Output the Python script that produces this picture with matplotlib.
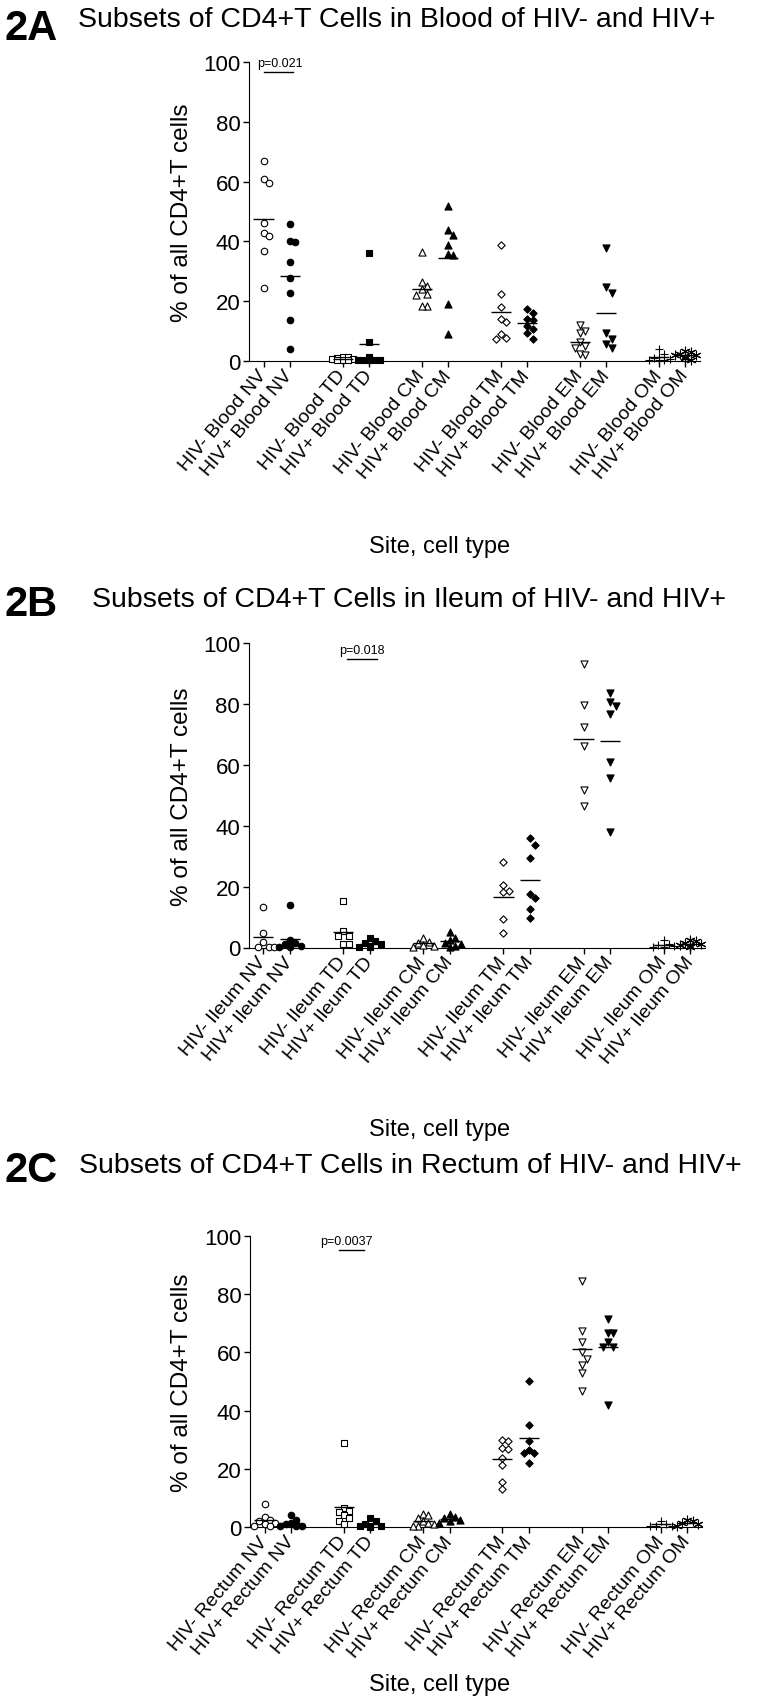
import numpy as np
import matplotlib.pyplot as plt

plt.rcParams['font.family'] = ['Liberation Sans', 'DejaVu Sans']

cell_types = ['NV', 'TD', 'CM', 'TM', 'EM', 'OM']
status = ['HIV-', 'HIV+']
sites = ['Blood', 'Ileum', 'Rectum']
panel_tags = ['2A', '2B', '2C']

# order of the 12 groups: HIV- NV, HIV+ NV, HIV- TD, HIV+ TD, ... HIV- OM, HIV+ OM
blood = [
    [66.8, 61.0, 59.5, 46.3, 42.9, 41.7, 36.8, 24.5],
    [45.9, 40.0, 39.8, 33.1, 27.6, 22.7, 13.7, 3.9],
    [1.5, 1.2, 1.0, 0.8, 0.6, 0.5, 0.3, 0.2],
    [36.2, 6.4, 1.5, 0.5, 0.3, 0.3, 0.2, 0.2],
    [36.5, 26.5, 25.0, 24.0, 22.5, 22.0, 18.5, 18.5],
    [51.7, 43.7, 42.0, 38.7, 35.9, 35.3, 19.2, 9.1],
    [38.9, 22.5, 18.1, 13.9, 13.0, 9.1, 7.7, 7.5],
    [17.3, 16.2, 14.2, 13.6, 11.7, 10.6, 9.4, 7.5],
    [12.0, 10.0, 9.5, 6.5, 5.0, 4.5, 2.5, 2.0],
    [37.9, 24.6, 22.7, 9.5, 7.5, 5.6, 4.3],
    [4.0, 2.5, 1.5, 1.0, 0.8, 0.5, 0.5, 0.3],
    [3.5, 3.0, 2.5, 2.0, 2.0, 1.5, 1.0, 0.5],
]
ileum = [
    [13.4, 4.7, 1.9, 0.3, 0.2, 0.1],
    [14.1, 2.5, 1.5, 1.0, 0.5, 0.3, 0.2],
    [15.2, 5.5, 3.9, 3.7, 1.1, 1.1],
    [3.0, 2.0, 1.5, 1.0, 0.5, 0.3, 0.2],
    [3.0, 1.8, 1.5, 0.8, 0.5, 0.3],
    [5.0, 3.0, 2.5, 1.5, 1.0, 0.5, 0.3],
    [28.0, 20.6, 18.7, 18.1, 9.4, 4.7],
    [35.9, 33.7, 29.3, 17.6, 16.4, 12.6, 9.6],
    [93.1, 79.6, 72.5, 66.3, 51.8, 46.6],
    [83.5, 80.5, 79.2, 76.7, 60.8, 55.7, 37.8],
    [2.5, 1.0, 0.8, 0.5, 0.3, 0.3],
    [2.5, 2.0, 1.5, 1.0, 0.8, 0.5, 0.3],
]
rectum = [
    [8.0, 3.5, 2.5, 2.0, 1.5, 1.0, 0.5, 0.3],
    [4.0, 2.5, 1.5, 1.0, 0.5, 0.3, 0.2],
    [29.0, 6.5, 5.5, 5.0, 4.0, 3.0, 2.0, 1.0],
    [3.0, 2.0, 1.0, 0.5, 0.3, 0.2, 0.1],
    [4.5, 4.0, 3.0, 2.0, 1.5, 1.0, 0.5, 0.3],
    [4.5, 3.5, 3.0, 2.5, 2.0, 1.5],
    [29.9, 29.6, 27.0, 26.8, 23.7, 21.3, 15.6, 13.0],
    [50.2, 35.0, 29.6, 26.4, 25.6, 25.4, 22.0],
    [84.6, 67.2, 63.6, 60.0, 57.9, 55.6, 52.8, 46.8],
    [71.4, 66.8, 66.6, 63.6, 61.7, 61.7, 41.9],
    [2.0, 1.0, 0.5, 0.5, 0.3],
    [2.5, 2.0, 1.5, 1.0, 0.5],
]
panels = [blood, ileum, rectum]

# p-value annotations (one per panel)
p_labels = ['p=0.021', 'p=0.018', 'p=0.0037']
p_text_x = [0.64, 3.7, 3.1]
p_text_y = [99.7, 97.8, 98.3]
p_line = [(0.0, 1.13), (3.15, 4.27), (2.83, 3.76)]
p_line_y = [96.8, 94.7, 95.1]

markers = ['o', 's', '^', 'D', 'v', '+']
sizes = [22, 22, 26, 14, 26, 40]

W, H = 765, 1699
fig = plt.figure(figsize=(W / 100, H / 100), dpi=100)

# axes boxes in pixels: left, right, y of 0, y of 100
boxes = [(249, 700, 362, 63), (248.5, 705, 948.5, 644), (250, 702, 1528, 1237)]
tag_y = [9, 585, 1151]
title_y = [20, 600, 1166]
title_x = [78, 92, 79]
xlabel_y = [547, 1130, 1685]


def swarm(vals, ygap, step):
    vals = np.asarray(vals)
    offs = np.zeros(len(vals))
    placed = []
    for i in np.argsort(vals)[::-1]:
        best, best_n = 0, None
        for k in [0, 1, -1, 2, -2]:
            n = sum(1 for v, o in placed if abs(vals[i] - v) < ygap and o == k)
            if n == 0:
                best = k
                break
            if best_n is None or n < best_n:
                best, best_n = k, n
        offs[i] = best * step
        placed.append((vals[i], best))
    return offs


for p, data in enumerate(panels):
    left, right, y0, y100 = boxes[p]
    ax = fig.add_axes([left / W, 1 - y0 / H, (right - left) / W, (y0 - y100) / H])
    site = sites[p]
    pos = []
    labels = []
    for g, vals in enumerate(data):
        ct, st = g // 2, g % 2
        x = 3 * ct + st
        pos.append(x)
        labels.append(f'{status[st]} {site} {cell_types[ct]}')
        m = markers[ct]
        if ct == 5 and st == 1:
            m = (6, 2, 0)
        offs = swarm(vals, 2.2, 0.2)
        if m == '+' or isinstance(m, tuple):
            ax.scatter(x + offs, vals, marker=m, s=sizes[ct], color='black',
                       linewidths=0.8, clip_on=False, zorder=3)
        else:
            fc = 'white' if st == 0 else 'black'
            ax.scatter(x + offs, vals, marker=m, s=sizes[ct], facecolors=fc,
                       edgecolors='black', linewidths=0.8, clip_on=False, zorder=3)
        ax.hlines(np.mean(vals), x - 0.38, x + 0.38, color='black', lw=1, zorder=4)

    ax.set_xlim(-0.55, 16.55)
    ax.set_ylim(0, 100)
    ax.spines['top'].set_visible(False)
    ax.spines['right'].set_visible(False)
    ax.set_xticks(pos)
    ax.set_xticklabels(labels, rotation=50, ha='right', va='center',
                       rotation_mode='anchor', fontsize=14)
    ax.set_yticks(range(0, 101, 20))
    ax.tick_params(axis='y', labelsize=16, length=4, width=1, pad=2)
    ax.tick_params(axis='x', length=4, width=1, pad=4)

    # p-value bracket
    ax.text(p_text_x[p], p_text_y[p], p_labels[p], ha='center', va='center', fontsize=9)
    ax.plot(p_line[p], [p_line_y[p]] * 2, color='black', lw=1)

    ax.text(-(left - 182) / (right - left), 0.5, '% of all CD4+T cells', rotation=90,
            ha='center', va='center', fontsize=17.5, transform=ax.transAxes)
    fig.text(440 / W, 1 - xlabel_y[p] / H, 'Site, cell type', ha='center',
             va='center', fontsize=17)
    fig.text(5 / W, 1 - tag_y[p] / H, panel_tags[p], ha='left', va='top',
             fontsize=30, fontweight='bold')
    fig.text(title_x[p] / W, 1 - title_y[p] / H,
             f'Subsets of CD4+T Cells in {site} of HIV- and HIV+',
             ha='left', va='center', fontsize=20.5)

fig.savefig('out.png', dpi=100)
